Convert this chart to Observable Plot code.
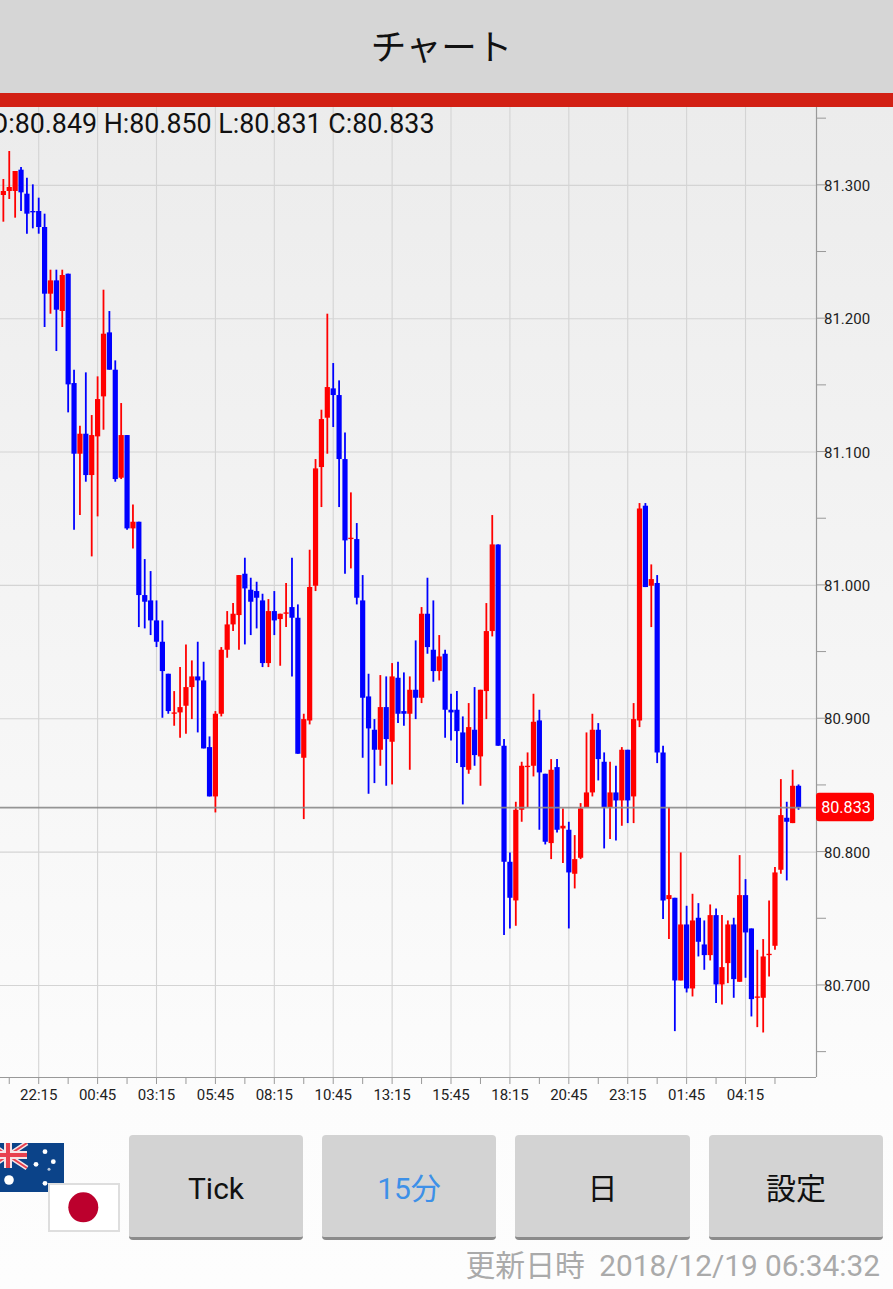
<!DOCTYPE html>
<html lang="ja">
<head>
<meta charset="utf-8">
<title>チャート</title>
<script src="https://cdn.jsdelivr.net/npm/d3@7"></script>
<script src="https://cdn.jsdelivr.net/npm/@observablehq/plot@0.6"></script>
<style>
  html, body { margin: 0; padding: 0; }
  body {
    position: relative; width: 893px; height: 1289px; overflow: hidden;
    background: linear-gradient(#ececec 107px, #fcfcfc 1090px, #fdfdfd 1289px);
    font-family: Roboto, "Noto Sans CJK JP", sans-serif;
  }
  #head {
    position: absolute; left: 0; top: 0; width: 883px; height: 93px; padding-right: 10px;
    background: #d6d6d6; color: #111; text-align: center;
    font: 35.5px/89px "Noto Sans CJK JP", sans-serif;
  }
  #bar { position: absolute; left: 0; top: 93px; width: 893px; height: 14px; background: #d22014; }
  #chart { position: absolute; left: 0; top: 107px; }
  .btn {
    position: absolute; top: 1135px; height: 102px; width: 174px;
    background: #d3d3d3; border-radius: 4px; border-bottom: 3px solid #8b8b8b;
    box-sizing: content-box; text-align: center; color: #111;
    font: 30px/108px Roboto, "Noto Sans CJK JP", sans-serif;
  }
  #stamp {
    position: absolute; right: 13px; top: 1246px; color: #aaa; white-space: nowrap;
    font: 29.8px/40px Roboto, "Noto Sans CJK JP", sans-serif;
  }
  #stamp span { margin-right: 7px; }
  .flag { position: absolute; }
</style>
</head>
<body>
<div id="head">チャート</div>
<div id="bar"></div>
<div id="chart"></div>

<svg class="flag" style="left:-21px;top:1143px" width="85" height="49" viewBox="0 0 85 49">
  <rect width="85" height="49" fill="#0b4389"/>
  <path d="M10 0L48 25M48 0L10 25" stroke="#f6e6e8" stroke-width="5"/>
  <path d="M10 0L48 25M48 0L10 25" stroke="#e8414f" stroke-width="2"/>
  <rect x="25" width="8" height="25" fill="#f6e6e8"/>
  <rect x="10" y="8" width="38" height="8" fill="#f6e6e8"/>
  <rect x="27" width="4" height="25" fill="#e8414f"/>
  <rect x="10" y="10" width="38" height="4" fill="#e8414f"/>
  <g fill="#fff">
    <circle cx="30" cy="37" r="4.8"/>
    <circle cx="66" cy="8.7" r="2.4"/>
    <circle cx="74.3" cy="18.7" r="2.4"/>
    <circle cx="57" cy="21.3" r="2.4"/>
    <circle cx="70" cy="26.3" r="1.5" fill-opacity="0.7"/>
    <circle cx="66" cy="40.3" r="2.4"/>
  </g>
</svg>
<svg class="flag" style="left:48px;top:1183px" width="72" height="49" viewBox="0 0 72 49">
  <rect x="1" y="1" width="70" height="47" fill="#fff" stroke="#dedede" stroke-width="2"/>
  <circle cx="35.3" cy="24.3" r="15" fill="#bc002d"/>
</svg>

<div class="btn" style="left:129px">Tick</div>
<div class="btn" style="left:322px;color:#3d90e8">15分</div>
<div class="btn" style="left:515px;width:175px">日</div>
<div class="btn" style="left:709px">設定</div>
<div id="stamp"><span>更新日時</span> 2018/12/19 06:34:32</div>

<script>
// Candle index of the first bar; index 0 is the 22:15 bar, one bar per 15 minutes.
const firstIndex = -6;

const open = [
  81.292,81.295,81.295,81.311,81.293,81.280,81.280,81.268,81.218,81.228,
  81.205,81.233,81.151,81.098,81.113,81.082,81.111,81.141,81.189,81.161,
  81.080,81.112,81.042,81.047,80.992,80.988,80.973,80.957,80.933,80.903,
  80.904,80.909,80.923,80.931,80.928,80.878,80.841,80.903,80.951,80.970,
  80.977,81.008,80.996,80.995,80.988,80.941,80.980,80.974,80.978,80.983,
  80.975,80.870,80.898,80.999,81.088,81.125,81.147,81.142,81.094,81.034,
  81.034,80.988,80.916,80.891,80.876,80.908,80.882,80.930,80.905,80.903,
  80.921,80.915,80.978,80.951,80.935,80.948,80.906,80.906,80.889,80.861,
  80.891,80.871,80.920,80.965,81.030,80.879,80.792,80.763,80.831,80.863,
  80.864,80.898,80.858,80.806,80.863,80.817,80.816,80.783,80.795,80.833,
  80.844,80.891,80.867,80.833,80.844,80.838,80.876,80.841,80.898,81.059,
  80.999,81.001,80.874,80.764,80.765,80.703,80.745,80.697,80.750,80.730,
  80.722,80.752,80.700,80.716,80.745,80.702,80.767,80.742,80.690,80.690,
  80.722,80.729,80.786,80.825,80.821,80.849
];
const close = [
  81.295,81.298,81.310,81.294,81.278,81.279,81.268,81.218,81.228,81.206,
  81.232,81.150,81.098,81.113,81.082,81.112,81.139,81.188,81.161,81.079,
  81.112,81.042,81.047,80.992,80.987,80.973,80.957,80.935,80.905,80.904,
  80.908,80.923,80.931,80.928,80.877,80.841,80.903,80.951,80.970,80.978,
  81.007,80.997,80.987,80.990,80.941,80.980,80.973,80.978,80.979,80.975,
  80.873,80.899,80.998,81.087,81.124,81.148,81.142,81.094,81.033,81.035,
  80.990,80.915,80.892,80.876,80.908,80.884,80.931,80.903,80.903,80.921,
  80.915,80.978,80.953,80.935,80.946,80.906,80.904,80.890,80.863,80.893,
  80.872,80.921,80.965,81.030,80.879,80.792,80.765,80.831,80.864,80.864,
  80.897,80.859,80.807,80.861,80.816,80.819,80.784,80.794,80.832,80.844,
  80.891,80.869,80.833,80.844,80.838,80.876,80.838,80.899,81.057,80.998,
  81.004,80.874,80.763,80.767,80.703,80.745,80.697,80.748,80.732,80.722,
  80.752,80.700,80.713,80.745,80.704,80.767,80.739,80.689,80.691,80.721,
  80.723,80.784,80.827,80.822,80.849,80.833
];
const high = [
  81.304,81.325,81.310,81.313,81.305,81.300,81.290,81.278,81.236,81.236,
  81.236,81.233,81.161,81.119,81.159,81.127,81.156,81.221,81.205,81.168,
  81.136,81.112,81.060,81.047,81.019,81.010,80.988,80.973,80.933,80.920,
  80.938,80.955,80.943,80.957,80.942,80.886,80.905,80.953,80.980,80.986,
  81.007,81.020,81.005,81.002,80.993,80.989,80.995,80.978,81.001,81.020,
  80.985,80.903,81.026,81.094,81.131,81.203,81.166,81.153,81.114,81.069,
  81.046,81.007,80.933,80.899,80.932,80.931,80.941,80.942,80.934,80.931,
  80.958,80.983,81.005,80.988,80.962,80.951,80.918,80.920,80.901,80.911,
  80.923,80.921,80.986,81.052,81.030,80.884,80.799,80.837,80.867,80.874,
  80.918,80.906,80.858,80.869,80.869,80.832,80.822,80.812,80.836,80.889,
  80.903,80.896,80.874,80.867,80.864,80.878,80.876,80.911,81.061,81.061,
  81.015,81.007,80.879,80.833,80.765,80.799,80.759,80.768,80.761,80.748,
  80.760,80.757,80.752,80.748,80.750,80.797,80.779,80.742,80.726,80.734,
  80.763,80.788,80.854,80.837,80.861,80.850
];
const low = [
  81.272,81.289,81.275,81.280,81.263,81.267,81.263,81.193,81.203,81.175,
  81.193,81.129,81.041,81.052,81.077,81.021,81.051,81.116,81.161,81.077,
  81.079,81.041,81.027,80.968,80.967,80.962,80.953,80.900,80.903,80.894,
  80.885,80.888,80.899,80.889,80.877,80.841,80.829,80.901,80.945,80.965,
  80.951,80.955,80.962,80.967,80.938,80.938,80.962,80.939,80.968,80.931,
  80.873,80.824,80.895,80.995,81.058,81.098,81.118,81.058,81.008,81.012,
  80.985,80.870,80.843,80.851,80.864,80.849,80.850,80.896,80.894,80.861,
  80.899,80.911,80.948,80.927,80.928,80.885,80.883,80.866,80.835,80.858,
  80.864,80.849,80.899,80.961,80.879,80.737,80.742,80.744,80.822,80.833,
  80.856,80.816,80.805,80.794,80.814,80.791,80.742,80.772,80.794,80.833,
  80.841,80.853,80.802,80.809,80.808,80.819,80.821,80.821,80.893,80.998,
  80.968,80.866,80.749,80.734,80.665,80.703,80.694,80.691,80.721,80.711,
  80.718,80.686,80.685,80.701,80.690,80.702,80.705,80.676,80.668,80.664,
  80.706,80.726,80.783,80.778,80.821,80.831
];

const timeLabels = ["22:15","00:45","03:15","05:45","08:15","10:45","13:15","15:45","18:15","20:45","23:15","01:45","04:15"];
const labelledTicks = [0,10,20,30,40,50,60,70,80,90,100,110,120];
const allTicks = [-5,0,5,10,15,20,25,30,35,40,45,50,55,60,65,70,75,80,85,90,95,100,105,110,115,120,125];
const priceGrid = [80.7,80.8,80.9,81.0,81.1,81.2,81.3];
const priceTicks = [80.65,80.7,80.75,80.8,80.85,80.9,80.95,81.0,81.05,81.1,81.15,81.2,81.25,81.3,81.35];

const UP = "#ff0000", DOWN = "#0000ff";
const candles = open.map((o, k) => ({
  i: firstIndex + k, open: o, close: close[k], high: high[k], low: low[k],
  color: close[k] >= o ? UP : DOWN
}));
const last = candles[candles.length - 1];
const fmt = d3.format(".3f");
const ohlc = `O:${fmt(last.open)} H:${fmt(last.high)} L:${fmt(last.low)} C:${fmt(last.close)}`;

const chart = Plot.plot({
  width: 893, height: 1015,
  marginLeft: 0, marginRight: 77, marginTop: 0, marginBottom: 45,
  style: { background: "transparent", font: "15px Roboto, sans-serif", overflow: "visible" },
  x: { type: "linear", domain: [-6.486, 132.05] },
  y: { type: "linear", domain: [80.6306, 81.358] },
  marks: [
    Plot.ruleX(labelledTicks, { x: d => d, stroke: "#d4d4d4", strokeWidth: 1.1 }),
    Plot.ruleY(priceGrid, { y: d => d, dy: 0.5, stroke: "#d4d4d4", strokeWidth: 1.1 }),
    Plot.ruleX(candles, { x: "i", y1: "low", y2: "high", stroke: "color", strokeWidth: 1.8 }),
    Plot.ruleX(candles, { x: "i", y1: "open", y2: "close", stroke: "color", strokeWidth: 5.2 }),
    Plot.ruleY([last.close], { y: d => d, stroke: "#8a8a8a", strokeOpacity: 0.9, strokeWidth: 1.8 }),
    Plot.ruleX([132.05], { x: d => d, stroke: "#999", strokeWidth: 1.2 }),
    Plot.ruleY([80.6306], { y: d => d, stroke: "#999", strokeWidth: 1.2 }),
    Plot.axisX({
      ticks: allTicks, tickSize: 7, tickPadding: 5, stroke: "#999", strokeOpacity: 1, fill: "#222",
      tickFormat: d => d % 10 === 0 ? timeLabels[d / 10] : "", label: null
    }),
    Plot.axisY({
      anchor: "right", ticks: priceTicks, tickSize: 9, stroke: "#999", strokeOpacity: 1,
      tickFormat: () => "", label: null
    }),
    Plot.axisY({
      anchor: "right", ticks: priceGrid, tickSize: 0, tickPadding: 7.5, dy: 1.2, fill: "#222",
      tickFormat: fmt, label: null
    }),
    Plot.rect([last], {
      x1: () => 132.05, x2: () => 141.9,
      y1: d => d.close - 0.0107, y2: d => d.close + 0.0107,
      fill: "#ff0000", rx: 3
    }),
    Plot.text([last], {
      y: "close", frameAnchor: "right", dx: 29.5, textAnchor: "middle",
      text: d => fmt(d.close), fill: "#fff", fontSize: 16.2
    }),
    Plot.text([ohlc], {
      frameAnchor: "top-left", dx: 434, dy: 17, textAnchor: "end", lineAnchor: "middle",
      fontSize: 26.8, fill: "#111"
    })
  ]
});
document.getElementById("chart").appendChild(chart);
</script>
</body>
</html>
